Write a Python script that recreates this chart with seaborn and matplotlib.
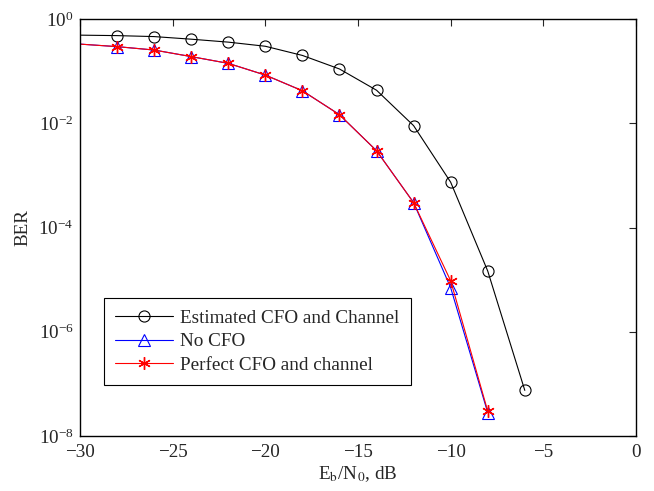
import numpy as np
import pandas as pd
import matplotlib
matplotlib.use("Agg")
import matplotlib.pyplot as plt
import seaborn as sns
from matplotlib.ticker import NullLocator, FixedLocator

# =========================
# Dados
# =========================
ebn0_est = [-30, -28, -26, -24, -22, -20, -18, -16, -14, -12, -10, -8, -6]
ber_est = [0.49, 0.48, 0.46, 0.41, 0.36, 0.30, 0.20, 0.11, 0.043, 0.0090, 7.4e-4, 1.46e-5, 7.5e-8]

ebn0_ideal = [-30, -28, -26, -24, -22, -20, -18, -16, -14, -12, -10, -8]
ber_nocfo = [0.33, 0.295, 0.254, 0.19, 0.141, 0.084, 0.042, 0.0146, 2.97e-3, 3.0e-4, 7.0e-6, 2.8e-8]
ber_perfect = [0.33, 0.295, 0.254, 0.19, 0.141, 0.084, 0.042, 0.0146, 2.97e-3, 3.0e-4, 9.5e-6, 3.0e-8]

x_ticks = [-30, -25, -20, -15, -10, -5, 0]
y_ticks = [1e-8, 1e-6, 1e-4, 1e-2, 1]
legenda = ["Estimated CFO and Channel", "No CFO", "Perfect CFO and channel"]

# =========================
# Estilo
# =========================
sns.set_style("white")
plt.rcParams["font.family"] = ["Liberation Serif", "DejaVu Serif"]
plt.rcParams["mathtext.fontset"] = "stix"
FS = 13.75

fig = plt.figure(figsize=(6.54, 4.91), dpi=100)
ax = fig.add_axes([0.1223, 0.112, 0.8502, 0.8493])

asterisco = (6, 2, 0)
sns.lineplot(x=ebn0_est, y=ber_est, ax=ax, color="black", marker="o", markersize=8,
             markerfacecolor="none", markeredgecolor="black", markeredgewidth=0.8,
             linewidth=0.8, markevery=list(range(1, len(ebn0_est))), label=legenda[0])
sns.lineplot(x=ebn0_ideal, y=ber_nocfo, ax=ax, color="blue", marker="^", markersize=8,
             markerfacecolor="none", markeredgecolor="blue", markeredgewidth=0.8,
             linewidth=0.8, markevery=list(range(1, len(ebn0_ideal))), label=legenda[1])
sns.lineplot(x=ebn0_ideal, y=ber_perfect, ax=ax, color="red", marker=asterisco, markersize=9,
             markerfacecolor="red", markeredgecolor="red", markeredgewidth=1.0,
             linewidth=0.8, markevery=list(range(1, len(ebn0_ideal))), label=legenda[2])

ax.set_yscale("log")
ax.set_xlim(-30, 0)
ax.set_ylim(1e-8, 1)
ax.xaxis.set_major_locator(FixedLocator(x_ticks))
ax.yaxis.set_major_locator(FixedLocator(y_ticks))
ax.yaxis.set_minor_locator(NullLocator())
ax.tick_params(direction="in", top=True, right=True, length=5, width=0.8, labelsize=FS)
ax.tick_params(axis="x", pad=6)
ax.tick_params(axis="y", pad=4.5)
for s in ax.spines.values():
    s.set_linewidth(1.0)
    s.set_color("black")

ax.set_xlabel(r"E$_\mathrm{b}$/N$_0$, dB", fontsize=FS, labelpad=2)
ax.set_ylabel("BER", fontsize=FS, labelpad=5)

leg = ax.legend(loc="lower left", bbox_to_anchor=(0.043, 0.122), fancybox=False,
                edgecolor="black", framealpha=1, handlelength=3.0, handletextpad=0.4,
                borderaxespad=0, borderpad=0.6, labelspacing=0.32, fontsize=FS)
leg.get_frame().set_linewidth(0.8)

plt.savefig("out.png", dpi=100)
plt.close()
